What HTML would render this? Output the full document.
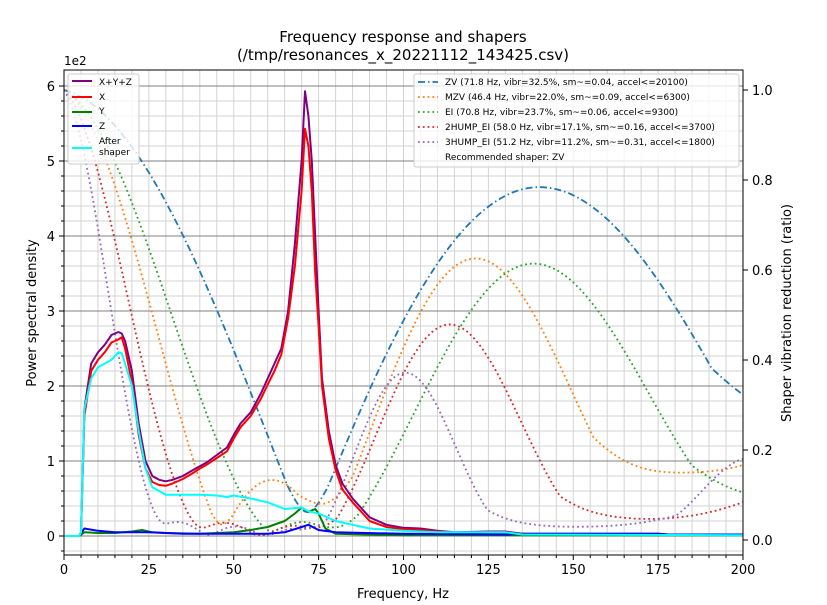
<!DOCTYPE html>
<html><head><meta charset="utf-8"><style>
body{margin:0;background:#fff;}
svg{display:block;font-family:"DejaVu Sans","Liberation Sans",sans-serif;}
</style></head><body>
<svg id="s" width="827" height="605" viewBox="0 0 827 605">
<rect width="827" height="605" fill="#fff"/>
<text x="403" y="42" font-size="15" text-anchor="middle">Frequency response and shapers</text>
<text x="403" y="60" font-size="15" text-anchor="middle">(/tmp/resonances_x_20221112_143425.csv)</text>
<text x="64" y="65" font-size="12">1e2</text>
<g id="grid"></g>
<g id="plot"></g>
<rect x="64" y="70" width="679" height="485" fill="none" stroke="#000" stroke-width="1"/>
<g id="ticks" font-size="12"></g>
<text x="403" y="598" font-size="13" text-anchor="middle">Frequency, Hz</text>
<text transform="translate(36,313) rotate(-90)" font-size="13" text-anchor="middle">Power spectral density</text>
<text transform="translate(791,313) rotate(-90)" font-size="13" text-anchor="middle">Shaper vibration reduction (ratio)</text>
<g id="leg1">
<rect x="68" y="74" width="71" height="90" fill="#fff" fill-opacity="0.8" stroke="#ccc" rx="2"/>
<line x1="72" y1="81" x2="92" y2="81" stroke="purple" stroke-width="2"/><text x="99" y="85" font-size="9">X+Y+Z</text>
<line x1="72" y1="97" x2="92" y2="97" stroke="red" stroke-width="2"/><text x="99" y="100" font-size="9">X</text>
<line x1="72" y1="112" x2="92" y2="112" stroke="green" stroke-width="2"/><text x="99" y="114" font-size="9">Y</text>
<line x1="72" y1="126" x2="92" y2="126" stroke="blue" stroke-width="2"/><text x="99" y="129" font-size="9">Z</text>
<line x1="72" y1="148" x2="92" y2="148" stroke="cyan" stroke-width="2"/><text x="99" y="144" font-size="9">After</text><text x="99" y="155" font-size="9">shaper</text>
</g>
<g id="leg2" font-size="9">
<rect x="414" y="74" width="325" height="93" fill="#fff" fill-opacity="0.8" stroke="#ccc" rx="2"/>
<line x1="418" y1="82" x2="438" y2="82" stroke="#1f77b4" stroke-width="1.8" stroke-dasharray="7,3,1.5,3"/><text x="445" y="85">ZV (71.8 Hz, vibr=32.5%, sm~=0.04, accel&lt;=20100)</text>
<line x1="418" y1="97" x2="438" y2="97" stroke="#ff7f0e" stroke-width="1.8" stroke-dasharray="1.8,3"/><text x="445" y="100">MZV (46.4 Hz, vibr=22.0%, sm~=0.09, accel&lt;=6300)</text>
<line x1="418" y1="112" x2="438" y2="112" stroke="#2ca02c" stroke-width="1.8" stroke-dasharray="1.8,3"/><text x="445" y="115">EI (70.8 Hz, vibr=23.7%, sm~=0.06, accel&lt;=9300)</text>
<line x1="418" y1="127" x2="438" y2="127" stroke="#d62728" stroke-width="1.8" stroke-dasharray="1.8,3"/><text x="445" y="130">2HUMP_EI (58.0 Hz, vibr=17.1%, sm~=0.16, accel&lt;=3700)</text>
<line x1="418" y1="142" x2="438" y2="142" stroke="#9467bd" stroke-width="1.8" stroke-dasharray="1.8,3"/><text x="445" y="145">3HUMP_EI (51.2 Hz, vibr=11.2%, sm~=0.31, accel&lt;=1800)</text>
<text x="445" y="160">Recommended shaper: ZV</text>
</g>
</svg>
<script>
var NS="http://www.w3.org/2000/svg";
function el(p,t,a){var e=document.createElementNS(NS,t);for(var k in a)e.setAttribute(k,a[k]);p.appendChild(e);return e;}
var X0=64,X1=743,Y0=536,PY=75,RY0=540,RY1=90;
function fx(f){return X0+f*(X1-X0)/200;}
function fy(v){return Y0-v*PY;}
function ry(r){return RY0-r*(RY0-RY1);}
var g=document.getElementById("grid"),t=document.getElementById("ticks"),p=document.getElementById("plot");
for(var f=0;f<=200;f+=5){el(g,"line",{x1:fx(f),y1:70,x2:fx(f),y2:555,stroke:"#d3d3d3","stroke-width":1});}
for(var v=-0.2;v<=6.2;v+=0.2){var y=fy(v);if(y<70||y>555)continue;el(g,"line",{x1:64,y1:y,x2:743,y2:y,stroke:"#d3d3d3","stroke-width":1});
 el(t,"line",{x1:61,y1:y,x2:64,y2:y,stroke:"#000"});}
for(var i=0;i<=6;i++){var y=fy(i);el(g,"line",{x1:64,y1:y,x2:743,y2:y,stroke:"#808080","stroke-width":1});
 el(t,"line",{x1:59,y1:y,x2:64,y2:y,stroke:"#000"});var tx=el(t,"text",{x:55,y:y+5,"text-anchor":"end","font-size":13});tx.textContent=i;}
for(var f=0;f<=200;f+=5){el(t,"line",{x1:fx(f),y1:555,x2:fx(f),y2:(f%25==0?560:558),stroke:"#000"});
 if(f%25==0){var tx=el(t,"text",{x:fx(f),y:574,"text-anchor":"middle","font-size":13});tx.textContent=f;}}
for(var r=0;r<=1.001;r+=0.2){var y=ry(r);el(t,"line",{x1:743,y1:y,x2:748,y2:y,stroke:"#000"});var tx=el(t,"text",{x:752,y:y+5,"font-size":13});tx.textContent=r.toFixed(1);}
function shapers(name,f){var z=0.1,df=Math.sqrt(1-z*z),K=Math.exp(-z*Math.PI/df),td=1/(f*df),vt=0.05,A,T;
 if(name=="ZV"){A=[1,K];T=[0,.5*td];}
 else if(name=="MZV"){var K2=Math.exp(-.75*z*Math.PI/df);var a1=1-1/Math.sqrt(2),a2=(Math.sqrt(2)-1)*K2,a3=a1*K2*K2;A=[a1,a2,a3];T=[0,.375*td,.75*td];}
 else if(name=="EI"){var a1=.25*(1+vt),a2=.5*(1-vt)*K,a3=a1*K*K;A=[a1,a2,a3];T=[0,.5*td,td];}
 else if(name=="2H"){var V2=vt*vt,Xx=Math.pow(V2*(Math.sqrt(1-V2)+1),1/3);var a1=(3*Xx*Xx+2*Xx+3*V2)/(16*Xx),a2=(.5-a1)*K,a3=a2*K,a4=a1*K*K*K;A=[a1,a2,a3,a4];T=[0,.5*td,td,1.5*td];}
 else{var K2=K*K,a1=0.0625*(1+3*vt+2*Math.sqrt(2*(vt+1)*vt)),a2=.25*(1-vt)*K,a3=(.5*(1+vt)-2*a1)*K2,a4=a2*K2,a5=a1*K2*K2;A=[a1,a2,a3,a4,a5];T=[0,.5*td,td,1.5*td,2*td];}
 return [A,T];}
function est(AT,fr){var A=AT[0],T=AT[1],s=0;for(var i=0;i<A.length;i++)s+=A[i];var best=0;
 [0.075,0.1,0.15].forEach(function(zr){var om=2*Math.PI*fr,d=zr*om,od=om*Math.sqrt(1-zr*zr),S=0,C=0,Tl=T[T.length-1];
  for(var i=0;i<A.length;i++){var W=A[i]*Math.exp(-d*(Tl-T[i]));S+=W*Math.sin(od*T[i]);C+=W*Math.cos(od*T[i]);}
  var v=Math.sqrt(S*S+C*C)/s;if(v>best)best=v;});return best;}
var sh=[["ZV",71.8,"#1f77b4","7,3,1.5,3"],["MZV",46.4,"#ff7f0e","1.8,3"],["EI",70.8,"#2ca02c","1.8,3"],["2H",58.0,"#d62728","1.8,3"],["3H",51.2,"#9467bd","1.8,3"]];
sh.forEach(function(s){var AT=shapers(s[0],s[1]),pts=[];for(var f=0;f<=200;f+=0.5)pts.push(fx(f).toFixed(1)+","+ry(est(AT,f)).toFixed(1));
 el(p,"polyline",{points:pts.join(" "),fill:"none",stroke:s[2],"stroke-width":1.8,"stroke-dasharray":s[3]});});
function line(d,c){var pts=[];for(var i=0;i<d.length;i+=2)pts.push(fx(d[i]).toFixed(1)+","+fy(d[i+1]).toFixed(1));
 el(p,"polyline",{points:pts.join(" "),fill:"none",stroke:c,"stroke-width":2,"stroke-linejoin":"round"});}
var xyz=[0,0,4.5,0,5,0.05,6,1.7,8,2.3,10,2.45,12,2.55,14,2.68,16,2.72,17,2.7,18,2.6,20,2.2,22,1.5,24,1.0,26,0.8,28,0.75,30,0.73,32,0.75,35,0.8,38,0.88,40,0.93,42,0.98,45,1.08,48,1.18,50,1.35,52,1.5,55,1.65,58,1.9,60,2.1,62,2.3,64,2.5,66,3.0,68,3.9,70,5.0,71,5.93,72,5.6,73,5.0,74,4.0,75,3.0,76,2.1,78,1.4,80,0.95,82,0.7,85,0.5,88,0.35,90,0.25,95,0.15,100,0.11,105,0.1,110,0.07,115,0.05,125,0.06,130,0.06,135,0.03,150,0.03,175,0.03,178,0.02,200,0.02];
var xx=[0,0,4.5,0,5,0.05,6,1.6,8,2.2,10,2.35,12,2.45,14,2.58,16,2.62,17,2.65,18,2.5,20,2.05,22,1.35,24,0.9,26,0.72,28,0.68,30,0.67,32,0.7,35,0.76,38,0.84,40,0.9,42,0.95,45,1.04,48,1.13,50,1.3,52,1.45,55,1.6,58,1.83,60,2.02,62,2.2,64,2.42,66,2.9,68,3.6,70,4.6,71,5.43,72,5.2,73,4.6,74,3.5,75,2.8,76,2.0,78,1.3,80,0.88,82,0.62,85,0.45,88,0.3,90,0.2,95,0.12,100,0.09,105,0.08,110,0.06,115,0.04,125,0.05,130,0.05,135,0.02,200,0.01];
var yy=[0,0,4.5,0,6,0.05,10,0.04,15,0.04,20,0.06,23,0.08,26,0.05,30,0.04,40,0.03,50,0.05,55,0.08,60,0.12,65,0.2,68,0.3,70,0.38,72,0.32,74,0.36,75,0.3,77,0.1,80,0.03,100,0.01,200,0.01];
var zz=[0,0,4.5,0,6,0.1,10,0.07,15,0.05,25,0.05,35,0.03,50,0.03,60,0.03,65,0.05,70,0.12,72,0.15,75,0.08,80,0.05,100,0.03,130,0.02,135,0.03,175,0.03,178,0.02,200,0.02];
var cy=[0,0,4.5,0,5,0.05,6,1.7,8,2.1,10,2.25,14,2.35,16,2.45,17,2.44,18,2.3,20,2.0,22,1.4,24,0.9,26,0.65,30,0.55,35,0.55,40,0.55,45,0.54,48,0.52,50,0.54,55,0.5,60,0.45,65,0.36,70,0.38,72,0.33,75,0.3,80,0.2,85,0.15,90,0.1,100,0.07,110,0.05,130,0.05,135,0.02,200,0.01];
line(xyz,"purple");line(xx,"red");line(yy,"green");line(zz,"blue");line(cy,"cyan");
</script>
</body></html>
